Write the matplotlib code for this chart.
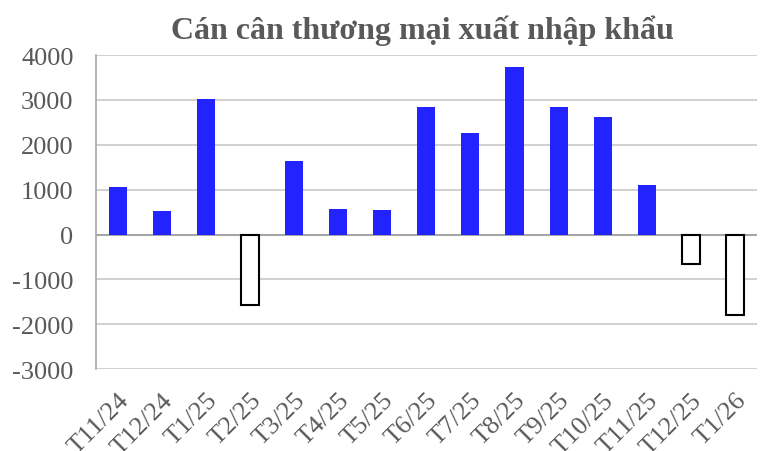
import matplotlib
matplotlib.use("Agg")
import matplotlib.pyplot as plt
import numpy as np

categories = ["T11/24", "T12/24", "T1/25", "T2/25", "T3/25", "T4/25", "T5/25",
              "T6/25", "T7/25", "T8/25", "T9/25", "T10/25", "T11/25", "T12/25", "T1/26"]
values = [1060, 530, 3020, -1560, 1640, 570, 550, 2845, 2265, 3735, 2845, 2620, 1105, -660, -1795]
yticks = [-3000, -2000, -1000, 0, 1000, 2000, 3000, 4000]

plt.rcParams['font.family'] = ['Liberation Serif', 'DejaVu Serif']

fig = plt.figure(figsize=(7.6, 4.52), dpi=100)
ax = fig.add_axes([0.126, 0.181, 0.87, 0.695])

x = np.arange(len(categories))
for xi, v in zip(x, values):
    if v >= 0:
        ax.bar(xi, v, width=0.41, color="#2323FF", zorder=3)
    else:
        ax.bar(xi, v, width=0.41, facecolor="white", edgecolor="black", linewidth=1.5, zorder=3)

ax.set_xlim(-0.5, len(categories) - 0.5)
ax.set_ylim(-3000, 4000)
ax.set_yticks(yticks)
ax.set_yticklabels([str(t) for t in yticks])
ax.set_xticks(x)
ax.set_xticklabels(categories, rotation=45, ha="right", rotation_mode="anchor")
ax.tick_params(axis="both", length=0, labelsize=19, colors="#595959")
ax.tick_params(axis="x", pad=14)
ax.tick_params(axis="y", pad=16)

ax.yaxis.grid(True, color="#c8c8c8", linewidth=1.2, zorder=0)
ax.axhline(0, color="#a6a6a6", linewidth=1.5, zorder=2)
for s in ["top", "right", "bottom"]:
    ax.spines[s].set_visible(False)
ax.spines["left"].set_color("#a6a6a6")
ax.spines["left"].set_linewidth(1.2)

fig.text(0.556, 0.932, "Cán cân thương mại xuất nhập khẩu", ha="center", va="center",
         fontsize=23, fontweight="bold", color="#595959")

fig.savefig("out.png", dpi=100)
